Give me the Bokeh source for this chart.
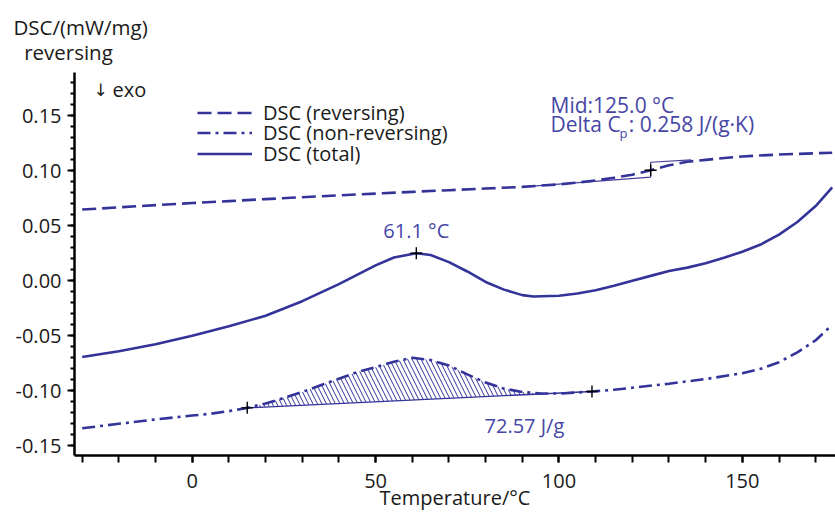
from bokeh.plotting import figure
from bokeh.models import (Range1d, SingleIntervalTicker, NumeralTickFormatter, Label,
                          Legend, LegendItem, Title)
from bokeh.embed import file_html
from bokeh.resources import INLINE

# ---------------- data ----------------
temps_rev = [-30, -20, -10, 0, 10, 20, 30, 40, 50, 60, 70, 80, 90, 100, 105, 110,
             115, 120, 125, 130, 135, 140, 150, 160, 170, 174.5]
dsc_rev = [0.0648, 0.0668, 0.0688, 0.0707, 0.0725, 0.0743, 0.0760, 0.0777, 0.0793,
           0.0809, 0.0824, 0.0839, 0.0854, 0.0877, 0.0893, 0.0913, 0.0937, 0.0965,
           0.1005, 0.1050, 0.1083, 0.1100, 0.1131, 0.1148, 0.1160, 0.1165]

temps_total = [-30, -20, -10, 0, 10, 20, 30, 40, 50, 55, 61.1, 65, 70, 75, 80, 85, 90,
               93, 100, 105, 110, 115, 120, 125, 130, 135, 140, 145, 150, 155, 160,
               165, 170, 174.5]
dsc_total = [-0.0692, -0.0640, -0.0577, -0.0500, -0.0412, -0.0318, -0.0185, -0.0030,
             0.0140, 0.0212, 0.0251, 0.0235, 0.0170, 0.0085, -0.0010, -0.0080, -0.0130,
             -0.0143, -0.0135, -0.0115, -0.0085, -0.0045, 0.0000, 0.0045, 0.0090,
             0.0120, 0.0160, 0.0210, 0.0265, 0.0330, 0.0420, 0.0535, 0.0680, 0.0850]

temps_nonrev = [-30, -20, -10, 0, 5, 10, 15, 20, 25, 30, 35, 40, 45, 50, 55, 60, 65, 70,
                75, 80, 85, 90, 95, 100, 105, 109, 115, 120, 130, 140, 150, 155, 160,
                165, 170, 174.5]
dsc_nonrev = [-0.1340, -0.1300, -0.1260, -0.1225, -0.1208, -0.1185, -0.1155, -0.1115,
              -0.1065, -0.1010, -0.0950, -0.0890, -0.0830, -0.0785, -0.0735, -0.0700,
              -0.0720, -0.0770, -0.0850, -0.0925, -0.0980, -0.1010, -0.1025, -0.1025,
              -0.1015, -0.1006, -0.0990, -0.0972, -0.0935, -0.0893, -0.0840, -0.0800,
              -0.0740, -0.0650, -0.0540, -0.0400]

# glass transition evaluation on the reversing curve
tg_mid = 125.0
tg_construct_T = [91, 125, 125, 136]
tg_construct_V = [0.0857, 0.0942, 0.1078, 0.1100]

# peak on total curve
peak_T = 61.1

# enthalpy integration limits on non-reversing curve
onset_T = 15
end_T = 109

legend_labels = ["DSC (reversing)", "DSC (non-reversing)", "DSC (total)"]

LINE = "#33339a"
TXT = "#4646a6"
FONT = "Open Sans"
DARK = "#1a1a1a"

p = figure(width=835, height=517, output_backend="svg", toolbar_location=None,
           x_range=Range1d(-32.1, 175.4), y_range=Range1d(-0.1588, 0.1894),
           min_border_left=74, min_border_right=0, min_border_top=72,
           min_border_bottom=62)
p.outline_line_color = None
p.grid.visible = False
p.background_fill_color = "white"

# axes
p.xaxis.ticker = SingleIntervalTicker(interval=50, num_minor_ticks=5)
p.yaxis.ticker = SingleIntervalTicker(interval=0.05, num_minor_ticks=5)
p.yaxis.formatter = NumeralTickFormatter(format="0.00")
for ax in (p.xaxis, p.yaxis):
    ax.axis_line_width = 2.5
    ax.axis_line_color = "black"
    ax.major_tick_line_width = 2
    ax.minor_tick_line_width = 2
    ax.major_tick_line_color = "black"
    ax.minor_tick_line_color = "black"
    ax.major_tick_in = 0
    ax.minor_tick_in = 0
    ax.major_label_text_font = FONT
    ax.major_label_text_font_size = "20px"
    ax.major_label_text_color = DARK
p.xaxis.major_tick_out = 7
p.xaxis.minor_tick_out = 7
p.xaxis.major_label_standoff = 11
p.xaxis.axis_label = "Temperature/°C"
p.xaxis.axis_label_text_font = FONT
p.xaxis.axis_label_text_font_size = "20px"
p.xaxis.axis_label_text_font_style = "normal"
p.xaxis.axis_label_text_color = DARK
p.xaxis.axis_label_standoff = -7
p.yaxis.major_tick_out = 7
p.yaxis.minor_tick_out = 4
p.yaxis.major_label_standoff = 6

# y-axis caption above the plot (two lines)
p.add_layout(Title(text="DSC/(mW/mg)\n\u00a0\u00a0reversing", align="left",
                   offset=-61, standoff=13, text_line_height=0.88,
                   text_font=FONT, text_font_size="20.5px", text_font_style="normal",
                   text_color=DARK), "above")

# tg construction lines
p.line(tg_construct_T, tg_construct_V, line_color="#4a3e98", line_width=1.2)

# hatched enthalpy area
i0 = temps_nonrev.index(onset_T)
i1 = temps_nonrev.index(end_T)
onset_V = dsc_nonrev[i0]
end_V = dsc_nonrev[i1]
patch_x = temps_nonrev[i0:i1 + 1] + [end_T, onset_T]
patch_y = dsc_nonrev[i0:i1 + 1] + [end_V, onset_V]
p.patch(patch_x, patch_y, fill_alpha=0, line_alpha=0, hatch_pattern="\\",
        hatch_color=LINE, hatch_scale=9, hatch_weight=1)
p.line([onset_T, end_T], [onset_V, end_V], line_color=LINE, line_width=1.3)

# curves
r_rev = p.line(temps_rev, dsc_rev, line_color=LINE, line_width=2.6, line_dash="14 6")
r_non = p.line(temps_nonrev, dsc_nonrev, line_color=LINE, line_width=2.6,
               line_dash="13 5 3 5")
r_tot = p.line(temps_total, dsc_total, line_color=LINE, line_width=2.6)

# markers
peak_V = dsc_total[temps_total.index(peak_T)]
mid_V = dsc_rev[temps_rev.index(tg_mid)]
p.scatter([onset_T, end_T, peak_T, tg_mid], [onset_V, end_V, peak_V, mid_V],
          marker="cross", size=12, line_color="black", line_width=1.4)

# legend: one legend per row so the rows sit as close as in the reference
for lbl, rend, ybot in zip(legend_labels, [r_rev, r_non, r_tot], [328.7, 308.9, 288.4]):
    lg = Legend(items=[LegendItem(label=lbl, renderers=[rend])],
                location=(123, ybot), padding=0, margin=0, spacing=0,
                glyph_width=55, glyph_height=27, label_height=27, label_standoff=11,
                label_text_font=FONT, label_text_font_size="20px",
                label_text_color=DARK,
                border_line_alpha=0, background_fill_alpha=0)
    p.add_layout(lg)

# annotations
def lab(**kw):
    kw.setdefault("text_font", FONT)
    kw.setdefault("text_font_size", "20px")
    kw.setdefault("text_baseline", "alphabetic")
    kw.setdefault("y_offset", 9)
    p.add_layout(Label(**kw))

lab(x=peak_T, y=peak_V, text="61.1 °C", text_align="center", y_offset=23, text_color=TXT)
lab(x=97.7, y=0.152, text="Mid:125.0 °C", text_color=TXT, text_font_size="21px")
lab(x=97.7, y=0.134, text="Delta C", text_color=TXT, text_font_size="21px")
lab(x=116.5, y=0.1266, text="p", text_color=TXT, text_font_size="13px")
lab(x=119.0, y=0.134, text=": 0.258 J/(g·K)", text_color=TXT, text_font_size="21px")
lab(x=79.7, y=-0.1397, text="72.57 J/g", text_color=TXT)
lab(x=19, y=359, x_units="screen", y_units="screen", text="↓", text_color=DARK,
    text_font="DejaVu Sans", text_font_size="17px", y_offset=7)
lab(x=38, y=359, x_units="screen", y_units="screen", text="exo", text_color=DARK,
    y_offset=7)

open("out.html", "w").write(file_html(p, INLINE))
